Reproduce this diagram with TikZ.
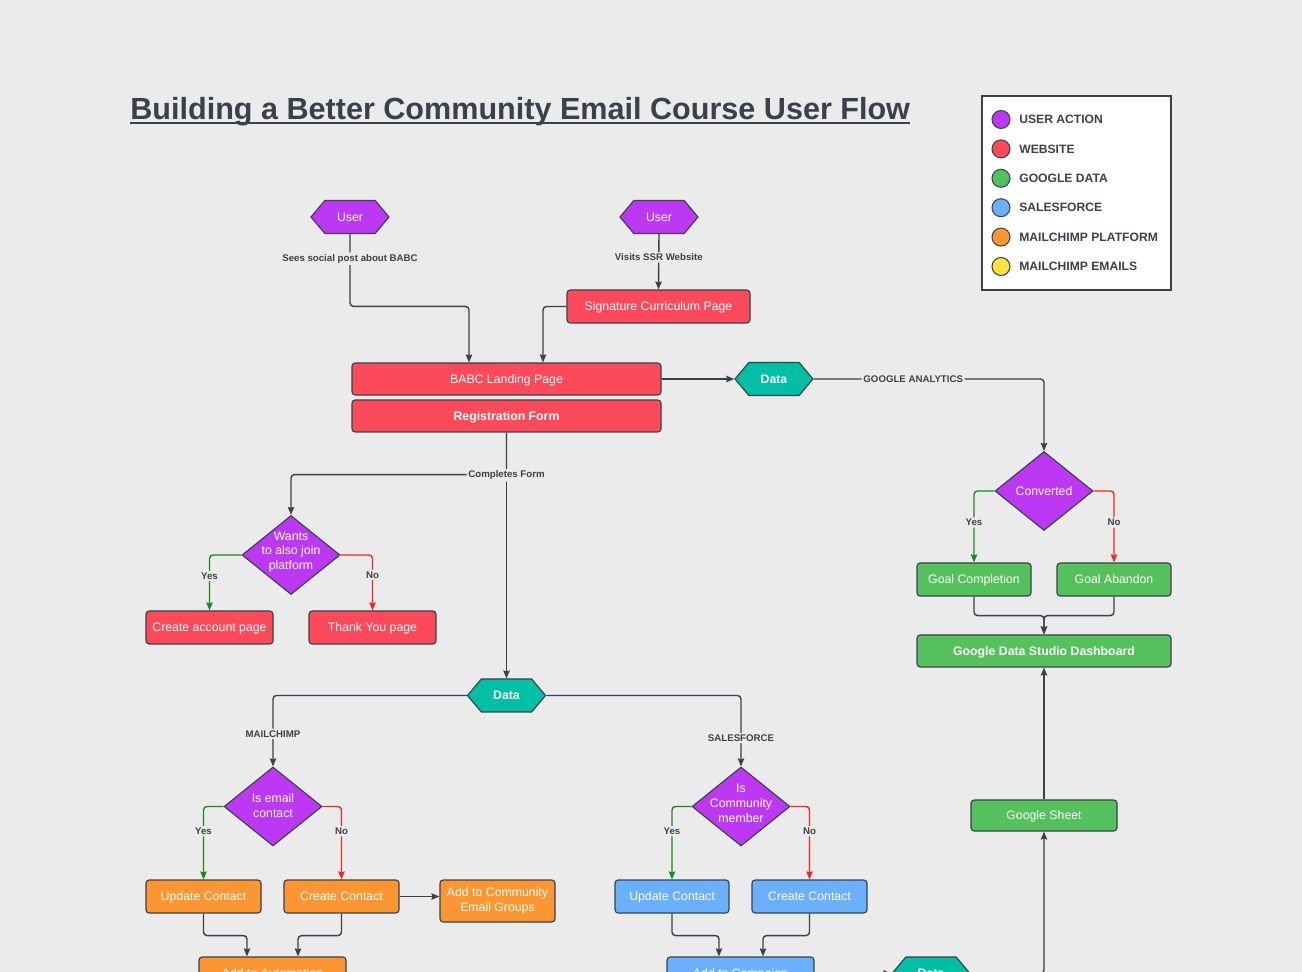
\documentclass[tikz,border=0pt]{standalone}
\usepackage{fontspec}
\setmainfont{Liberation Sans}
\usetikzlibrary{arrows.meta,shapes.geometric,shapes.symbols,calc}
\definecolor{paper}{HTML}{EBEBEB}
\definecolor{ink}{HTML}{3A414A}
\definecolor{userP}{HTML}{BC38F3}
\definecolor{webR}{HTML}{FC4A5B}
\definecolor{gooG}{HTML}{55C15C}
\definecolor{sfB}{HTML}{6AB0FC}
\definecolor{mcO}{HTML}{FC9632}
\definecolor{mcY}{HTML}{FFE13F}
\definecolor{dataT}{HTML}{00BFA5}
\definecolor{yesG}{HTML}{18891A}
\definecolor{noR}{HTML}{EC2A1E}
\newlength{\pxl}\setlength{\pxl}{0.02cm}
\newcommand{\boxfnt}{\fontsize{7}{8.4}\selectfont}
\newcommand{\edgefnt}{\fontsize{5.5}{6.5}\selectfont\bfseries}

\begin{document}
\begin{tikzpicture}[x=0.02cm, y=-0.02cm,
  box/.style={draw=ink, line width=0.65pt, rounded corners=1.8pt, fill=#1, text=white,
              font=\boxfnt, inner sep=0pt, minimum height=33\pxl,
              text height=5pt, text depth=0pt},
  hexa/.style={signal, signal to=east and west, signal pointer angle=100, draw=ink,
               line width=0.65pt, fill=#1, text=white, font=\boxfnt, inner sep=0pt,
               minimum width=78\pxl, minimum height=33\pxl},
  dia/.style={diamond, draw=ink, line width=0.65pt, fill=userP, inner sep=0pt,
              minimum width=98\pxl, minimum height=79\pxl},
  dtxt/.style={font=\boxfnt, text=white, align=center, inner sep=0pt},
  conn/.style={draw=ink, line width=0.8pt, rounded corners=2pt},
  yes/.style={draw=yesG, line width=0.8pt, rounded corners=2pt},
  no/.style={draw=noR, line width=0.8pt, rounded corners=2pt},
  elbl/.style={font=\edgefnt, text=ink, fill=paper, inner sep=1pt},
  dot/.style={circle, draw=ink, line width=0.6pt, fill=#1, minimum size=18\pxl, inner sep=0pt},
  keytxt/.style={font=\fontsize{6.9}{8}\selectfont\bfseries, text=ink, inner sep=0pt, anchor=west},
  >={Stealth[length=0.16cm, width=0.13cm, inset=0.02cm]}]

\useasboundingbox (0,0) rectangle (1302,972);
\clip (0,0) rectangle (1302,972);
\fill[paper] (0,0) rectangle (1302,972);

% ================================================================== title and key
\node[font=\fontsize{17.4}{20}\selectfont\bfseries, text=ink, inner sep=0pt, anchor=base west]
  (title) at (130,119.5) {Building a Better Community Email Course User Flow};
\draw[ink, line width=1.1pt] ([yshift=-3.8\pxl]title.base west) -- ([yshift=-3.8\pxl]title.base east);

\node[draw=ink, fill=white, line width=0.6pt, minimum width=189\pxl, minimum height=194\pxl, inner sep=0pt]
  (key) at (1076.5,193) {};
\foreach \col/\txt [count=\i] in {userP/USER ACTION, webR/WEBSITE, gooG/GOOGLE DATA,
                                  sfB/SALESFORCE, mcO/MAILCHIMP PLATFORM, mcY/MAILCHIMP EMAILS}{
  \node[dot=\col] (k\i) at (1001,{119.5+(\i-1)*29.4}) {};
  \node[keytxt] (kt\i) at (1019,{119.5+(\i-1)*29.4}) {\txt};
}

% ================================================================== entry: users to the landing page
\node[hexa=userP] (u1) at (350,217) {User};
\node[hexa=userP] (u2) at (659,217) {User};
\node[box=webR, minimum width=183\pxl] (sig) at (658.5,306.5) {Signature Curriculum Page};
\node[box=webR, minimum width=309\pxl, minimum height=32\pxl] (landing) at (506.5,379) {BABC Landing Page};
\node[box=webR, minimum width=309\pxl, minimum height=32\pxl, font=\boxfnt\bfseries] (reg) at (506.5,416) {Registration Form};

\draw[conn,->] (u1.south) |- node[elbl, pos=0.17] {Sees social post about BABC}
  ([xshift=-37.5\pxl, yshift=56\pxl]landing.north) -- ([xshift=-37.5\pxl]landing.north);
\draw[conn,->] (u2.south) -- node[elbl, pos=0.42] {Visits SSR Website} (sig.north);
\draw[conn,->] (sig.west) -| ([xshift=36.5\pxl]landing.north);

% ================================================================== google analytics branch
\node[hexa=dataT, font=\boxfnt\bfseries] (data1) at (774,379) {Data};
\node[dia] (conv) at (1044,491) {};
\node[dtxt] (conv-t) at (conv) {Converted};
\node[box=gooG, minimum width=114\pxl] (gc) at (974,579.5) {Goal Completion};
\node[box=gooG, minimum width=114\pxl] (ga) at (1114,579.5) {Goal Abandon};
\node[box=gooG, minimum width=254\pxl, minimum height=32\pxl, font=\boxfnt\bfseries] (dash) at (1044,651) {Google Data Studio Dashboard};
\node[box=gooG, minimum width=146\pxl, minimum height=31\pxl] (sheet) at (1044,815.5) {Google Sheet};

\draw[conn,->] (landing.east) -- (data1.west);
\draw[conn,->] (data1.east) -| node[elbl, pos=0.216] {GOOGLE ANALYTICS} (conv.north);
\draw[yes,->] (conv.west) -| node[elbl, pos=0.72] {Yes} (gc.north);
\draw[no,->] (conv.east) -| node[elbl, pos=0.72] {No} (ga.north);
\draw[conn,->] (gc.south) -- ++(0,19) -| (dash.north);
\draw[conn,->] (ga.south) -- ++(0,19) -| (dash.north);
\draw[conn,->] (sheet.north) -- (dash.south);

% ================================================================== registration
\node[dia] (wants) at (291,555) {};
\node[dtxt] (wants-t) at ([yshift=3\pxl]wants.center) {Wants\\to also join\\platform};
\node[box=webR, minimum width=127\pxl] (cap) at (209.5,627.5) {Create account page};
\node[box=webR, minimum width=127\pxl] (ty) at (372.5,627.5) {Thank You page};
\node[hexa=dataT, font=\boxfnt\bfseries] (data2) at (506.5,695.5) {Data};

\draw[conn,->] (reg.south) -- ++(0,42) -| (wants.north);
\draw[conn,->] (reg.south) -- node[elbl, pos=0.174] {Completes Form} (data2.north);
\draw[yes,->] (wants.west) -| node[elbl, pos=0.69] {Yes} (cap.north);
\draw[no,->] (wants.east) -| node[elbl, pos=0.68] {No} (ty.north);

% ================================================================== mailchimp
\node[dia] (email) at (273,806.5) {};
\node[dtxt] (email-t) at ([yshift=1\pxl]email.center) {Is email\\contact};
\node[box=mcO, minimum width=115\pxl] (upd1) at (203.5,896.5) {Update Contact};
\node[box=mcO, minimum width=115\pxl] (cre1) at (341.5,896.5) {Create Contact};
\node[box=mcO, minimum width=115\pxl, minimum height=42\pxl, align=center, text height=, text depth=]
  (grp) at (497.5,901) {Add to Community\\Email Groups};
\node[box=mcO, minimum width=147\pxl] (auto) at (272.5,973.5) {Add to Automation};

\draw[conn,->] (data2.west) -| node[elbl, pos=0.77] {MAILCHIMP} (email.north);
\draw[yes,->] (email.west) -| node[elbl, pos=0.67] {Yes} (upd1.north);
\draw[no,->] (email.east) -| node[elbl, pos=0.67] {No} (cre1.north);
\draw[conn,->] (cre1.east) -- (cre1.east -| grp.west);
\draw[conn,->] (upd1.south) -- ++(0,22) -| ([xshift=-25.5\pxl]auto.north);
\draw[conn,->] (cre1.south) -- ++(0,22) -| ([xshift=25.5\pxl]auto.north);

% ================================================================== salesforce
\node[dia] (comm) at (741,806.5) {};
\node[dtxt] (comm-t) at ([yshift=3\pxl]comm.center) {Is\\Community\\member};
\node[box=sfB, minimum width=114\pxl] (upd2) at (672,896.5) {Update Contact};
\node[box=sfB, minimum width=115\pxl] (cre2) at (809.5,896.5) {Create Contact};
\node[box=sfB, minimum width=147\pxl] (camp) at (740.5,973.5) {Add to Campaign};
\node[hexa=dataT, font=\boxfnt\bfseries] (data3) at (931,973.5) {Data};

\draw[conn,->] (data2.east) -| node[elbl, pos=0.80] {SALESFORCE} (comm.north);
\draw[yes,->] (comm.west) -| node[elbl, pos=0.67] {Yes} (upd2.north);
\draw[no,->] (comm.east) -| node[elbl, pos=0.67] {No} (cre2.north);
\draw[conn,->] (upd2.south) -- ++(0,22) -| ([xshift=-21.5\pxl]camp.north);
\draw[conn,->] (cre2.south) -- ++(0,22) -| ([xshift=22.5\pxl]camp.north);
\draw[conn,->] (camp.east) -- (data3.west);
\draw[conn,->] (data3.east) -| (sheet.south);
\end{tikzpicture}
\end{document}
